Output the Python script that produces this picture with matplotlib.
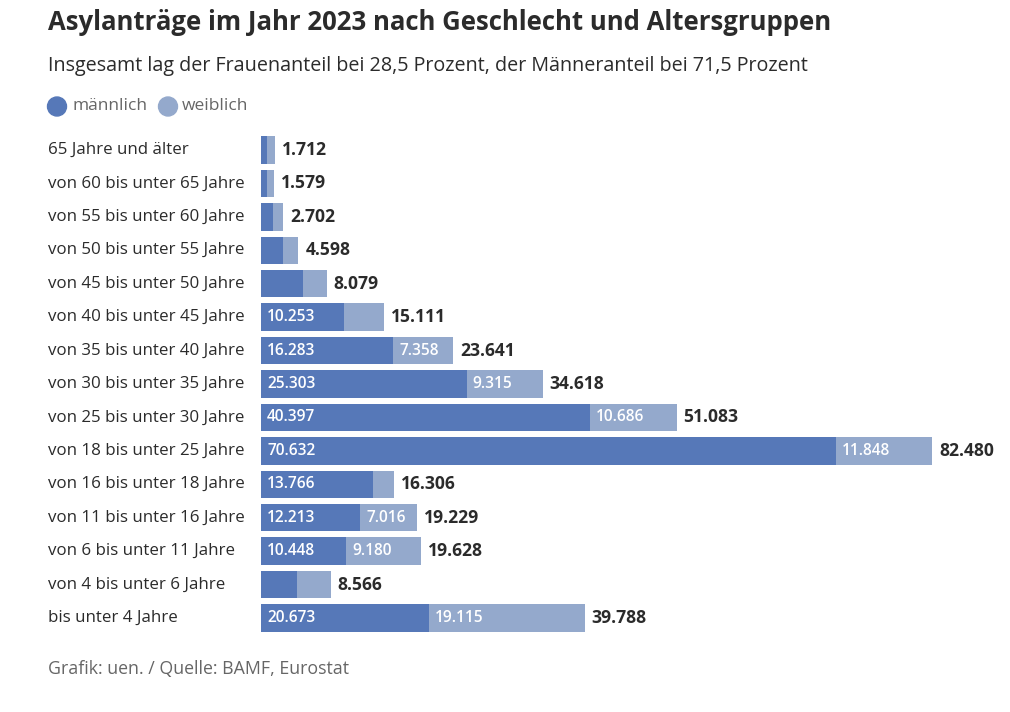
import matplotlib.pyplot as plt
from matplotlib.patches import Ellipse

plt.rcParams['font.family'] = ['Open Sans', 'DejaVu Sans']

groups = [
    '65 Jahre und älter', 'von 60 bis unter 65 Jahre', 'von 55 bis unter 60 Jahre',
    'von 50 bis unter 55 Jahre', 'von 45 bis unter 50 Jahre', 'von 40 bis unter 45 Jahre',
    'von 35 bis unter 40 Jahre', 'von 30 bis unter 35 Jahre', 'von 25 bis unter 30 Jahre',
    'von 18 bis unter 25 Jahre', 'von 16 bis unter 18 Jahre', 'von 11 bis unter 16 Jahre',
    'von 6 bis unter 11 Jahre', 'von 4 bis unter 6 Jahre', 'bis unter 4 Jahre',
]
total = [1712, 1579, 2702, 4598, 8079, 15111, 23641, 34618, 51083, 82480,
         16306, 19229, 19628, 8566, 39788]
male = [740, 700, 1475, 2700, 5200, 10253, 16283, 25303, 40397, 70632,
        13766, 12213, 10448, 4390, 20673]
female = [t - m for t, m in zip(total, male)]

c_male = '#5678b8'
c_female = '#94a9cc'
c_text = '#2b2b2b'
c_grey = '#666666'


def fmt(v):
    return f'{v:,}'.replace(',', '.')


W, H = 1010, 712
fig = plt.figure(figsize=(W / 100, H / 100), dpi=100)
px = 0.008135  # pixels per unit
top, bot = 133.3, 634.7
ax = fig.add_axes([261 / W, 1 - bot / H, (1000 - 261) / W, (bot - top) / H])
ax.set_xlim(0, (1000 - 261) / px)
ax.set_ylim(len(groups) - 0.5, -0.5)
ax.axis('off')

ys = list(range(len(groups)))
ax.barh(ys, male, height=0.82, color=c_male, linewidth=0)
ax.barh(ys, female, left=male, height=0.82, color=c_female, linewidth=0)

off = 6 / px
for y, m, f, t in zip(ys, male, female, total):
    if m >= 6000:
        ax.text(off, y, fmt(m), color='white', fontsize=11.2, fontweight='semibold',
                va='center', ha='left')
    if f >= 6000:
        ax.text(m + off, y, fmt(f), color='white', fontsize=11.2, fontweight='semibold',
                va='center', ha='left')
    ax.text(t + 7 / px, y, fmt(t), color=c_text, fontsize=12.6, fontweight='bold',
            va='center', ha='left')
    fig.text(48 / W, 1 - (150 + y * 33.43) / H, groups[y], color=c_text, fontsize=12.2,
             va='center', ha='left')

fig.text(48 / W, 1 - 23 / H, 'Asylanträge im Jahr 2023 nach Geschlecht und Altersgruppen',
         fontsize=18.5, fontweight='bold', color=c_text, va='center', ha='left')
fig.text(48 / W, 1 - 66 / H,
         'Insgesamt lag der Frauenanteil bei 28,5 Prozent, der Männeranteil bei 71,5 Prozent',
         fontsize=14.2, color=c_text, va='center', ha='left')

# legend
for cx, tx, lab, col in [(57, 72, 'männlich', c_male), (168, 182, 'weiblich', c_female)]:
    fig.add_artist(Ellipse((cx / W, 1 - 106.5 / H), 19 / W, 19 / H,
                           transform=fig.transFigure, color=col))
    fig.text(tx / W, 1 - 106 / H, lab, fontsize=12.5, color=c_grey, va='center', ha='left')

fig.text(48 / W, 1 - 669 / H, 'Grafik: uen. / Quelle: BAMF, Eurostat', fontsize=12.8,
         color=c_grey, va='center', ha='left')

fig.savefig('out.png', dpi=100)
